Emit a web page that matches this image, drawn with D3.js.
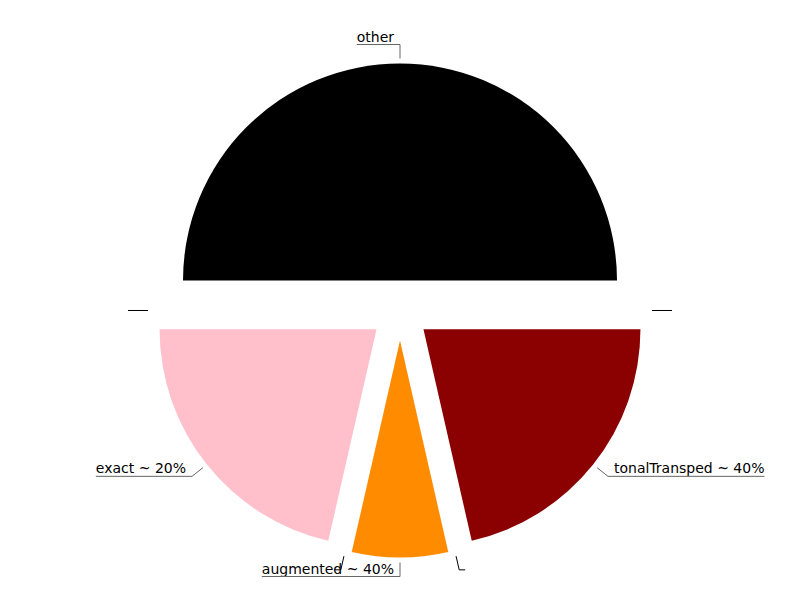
<!DOCTYPE html>
<html>
<head>
<meta charset="utf-8">
<script src="https://cdn.jsdelivr.net/npm/d3@7/dist/d3.min.js"></script>
<style>
  body { margin: 0; background: #fff; }
  text { font-family: "DejaVu Sans", sans-serif; font-size: 14px; fill: #000; }
</style>
</head>
<body>
<div id="chart"></div>
<script>
// slices in drawing order, clockwise from 9 o'clock (empty ones have no label)
var categories = ["other", "", "tonalTransped", "", "augmented", "", "exact", ""];
var values     = [7, 0, 3, 0, 1, 0, 3, 0];
var labels     = ["other", "", "tonalTransped ~ 40%", "", "augmented ~ 40%", "", "exact ~ 20%", ""];
var colors     = ["#000000", "#000000", "#8b0000", "#000000", "#ff8c00", "#000000", "#ffc0cb", "#000000"];

var width = 800, height = 600;
var cx = 400, cy = 310.5;
var radius = 217;
var explode = 30;

var data = categories.map(function(c, i) {
  return {name: c, value: values[i], label: labels[i], color: colors[i]};
});

var pie = d3.pie()
  .sort(null)
  .value(function(d) { return d.value; })
  .startAngle(-Math.PI / 2)
  .endAngle(Math.PI * 1.5);

var arcs = pie(data);

var arc = d3.arc().innerRadius(0).outerRadius(radius);

var svg = d3.select("#chart").append("svg")
  .attr("width", width)
  .attr("height", height);

var g = svg.append("g")
  .attr("transform", "translate(" + cx + "," + cy + ")");

function mid(d) { return (d.startAngle + d.endAngle) / 2; }
function offset(d, r) {
  var a = mid(d);
  return [Math.sin(a) * r, -Math.cos(a) * r];
}

// each slice pushed out along its middle angle
var slice = g.selectAll(".slice")
  .data(arcs)
  .enter().append("g")
  .attr("class", "slice")
  .attr("transform", function(d) {
    var o = offset(d, explode);
    return "translate(" + o[0] + "," + o[1] + ")";
  });

slice.filter(function(d) { return d.value > 0; })
  .append("path")
  .attr("d", arc)
  .attr("fill", function(d) { return d.data.color; });

// label lines and texts
slice.each(function(d) {
  var s = d3.select(this);
  var a = mid(d);
  var p1 = offset(d, radius + 5);
  var p2 = offset(d, radius + 19);
  var right = Math.sin(a) > 0.01;
  var t = s.append("text")
    .attr("y", p2[1] - 3)
    .text(d.data.label);
  var tw = d.data.label ? t.node().getComputedTextLength() : 0;
  var x3;
  if (right) {
    t.attr("x", p2[0] + 6).attr("text-anchor", "start");
    x3 = p2[0] + 6 + tw;
  } else {
    t.attr("x", p2[0] - 6).attr("text-anchor", "end");
    x3 = p2[0] - 6 - tw;
  }
  s.append("polyline")
    .attr("points", [p1, p2, [x3, p2[1]]].map(function(p) { return p.join(","); }).join(" "))
    .attr("fill", "none")
    .attr("stroke", d.data.label ? "#666" : "#000")
    .attr("stroke-width", 1);
});
</script>
</body>
</html>
